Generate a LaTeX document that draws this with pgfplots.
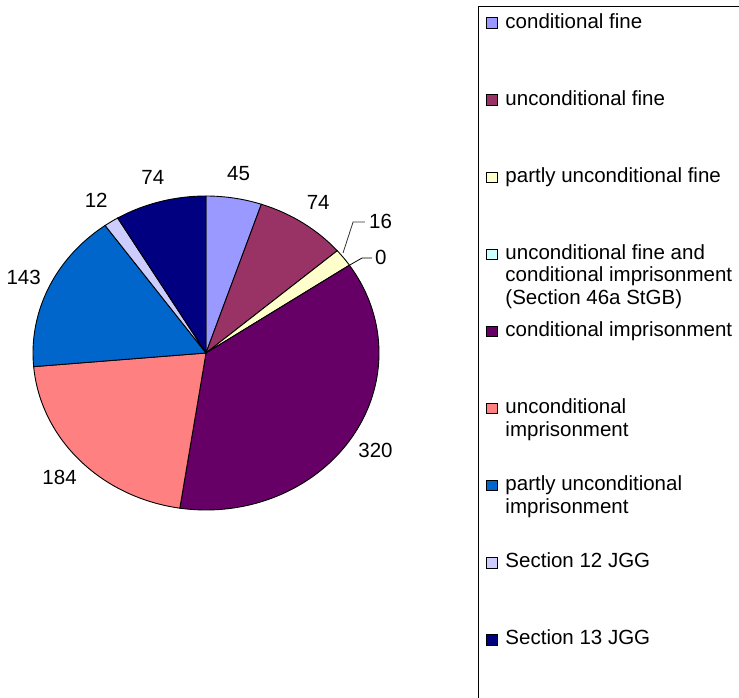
\documentclass[border=0pt]{standalone}
\usepackage{pgfplots}
\pgfplotsset{compat=1.18}
\usepackage{fontspec}
\setmainfont{Liberation Sans}

\definecolor{condfine}{HTML}{9999FF}
\definecolor{uncondfine}{HTML}{993366}
\definecolor{partfine}{HTML}{FFFFCC}
\definecolor{finecond}{HTML}{CCFFFF}
\definecolor{condimp}{HTML}{660066}
\definecolor{uncondimp}{HTML}{FF8080}
\definecolor{partimp}{HTML}{0066CC}
\definecolor{jggtwelve}{HTML}{CCCCFF}
\definecolor{jggthirteen}{HTML}{000080}

\newcommand\chartfont{\fontsize{20.5bp}{22.5bp}\selectfont}
\newcommand\entry[1]{\parbox[t]{250bp}{\strut #1}}

% values of the slices, clockwise from 12 o'clock
\pgfmathsetmacro\pietotal{45+74+16+0+320+184+143+12+74}
\pgfmathsetmacro\degper{360/\pietotal}
\def\piecum{0}

% #1 value, #2 colour, #3 legend text, #4 label at standard place (1) or not (0)
\newcommand\pieslice[4]{%
  \pgfmathsetmacro\slA{90-\degper*\piecum}%
  \pgfmathsetmacro\slB{90-\degper*(\piecum+#1)}%
  \pgfmathsetmacro\slM{(\slA+\slB)/2}%
  \pgfmathsetmacro\newcum{\piecum+#1}%
  \global\let\piecum\newcum
  \ifdim #1pt>0pt
    \edef\doslice{\noexpand\addplot[fill=#2, draw=black, line width=0.9bp,
      domain=\slB:\slA, samples=100] ({cos(x)},{sin(x)}) -- (axis cs:0,0) -- cycle;}%
    \doslice
  \else
    \addlegendimage{fill=#2, draw=black}%
  \fi
  \addlegendentry{\entry{#3}}%
  \ifnum#4=1
    \pgfmathsetmacro\lx{1.16*cos(\slM)}%
    \pgfmathsetmacro\ly{1.16*sin(\slM)}%
    \edef\dolabel{\noexpand\node[font=\noexpand\chartfont] at (axis cs:\lx,\ly) {#1};}%
    \dolabel
  \fi
}

\begin{document}
\begin{tikzpicture}
\useasboundingbox (0,0) rectangle (739bp,698bp);
\begin{axis}[
    at={(33bp,188bp)}, anchor=south west,
    scale only axis, width=346bp, height=314bp,
    xmin=-1, xmax=1, ymin=-1, ymax=1, enlargelimits=false,
    hide axis, clip=false,
    legend image code/.code={\draw[#1, line width=0.6bp] (0bp,0bp) rectangle (10.5bp,10.5bp);},
    legend style={at={(1.2861,1.6051)}, anchor=north west, draw=black, line width=0.8bp,
        inner xsep=8bp, inner ysep=6bp, font=\chartfont, row sep=0pt, column sep=8bp,
        cells={anchor=base west},
        nodes={inner sep=0pt, text height=15.75bp, text depth=61.35bp}},
]
\pieslice{45}{condfine}{conditional fine}{1}
\pieslice{74}{uncondfine}{unconditional fine}{1}
\pieslice{16}{partfine}{partly unconditional fine}{0}
\pieslice{0}{finecond}{unconditional fine and\\conditional imprisonment\\(Section 46a StGB)}{0}
\pieslice{320}{condimp}{conditional imprisonment}{1}
\pieslice{184}{uncondimp}{unconditional\\imprisonment}{1}
\pieslice{143}{partimp}{partly unconditional\\imprisonment}{1}
\pieslice{12}{jggtwelve}{Section 12 JGG}{1}
\pieslice{74}{jggthirteen}{Section 13 JGG}{1}

% leader lines of the two small slices
\draw[line width=0.8bp, black!80] (axis cs:0.792,0.637) -- (axis cs:0.850,0.834) -- (axis cs:0.919,0.834);
\node[anchor=west, inner sep=0pt, font=\chartfont] at (axis cs:0.942,0.841) {16};
\draw[line width=0.8bp] (axis cs:0.832,0.561) -- (axis cs:0.902,0.605) -- (axis cs:0.960,0.605);
\node[anchor=west, inner sep=0pt, font=\chartfont] at (axis cs:0.977,0.611) {0};
\end{axis}
\end{tikzpicture}
\end{document}
